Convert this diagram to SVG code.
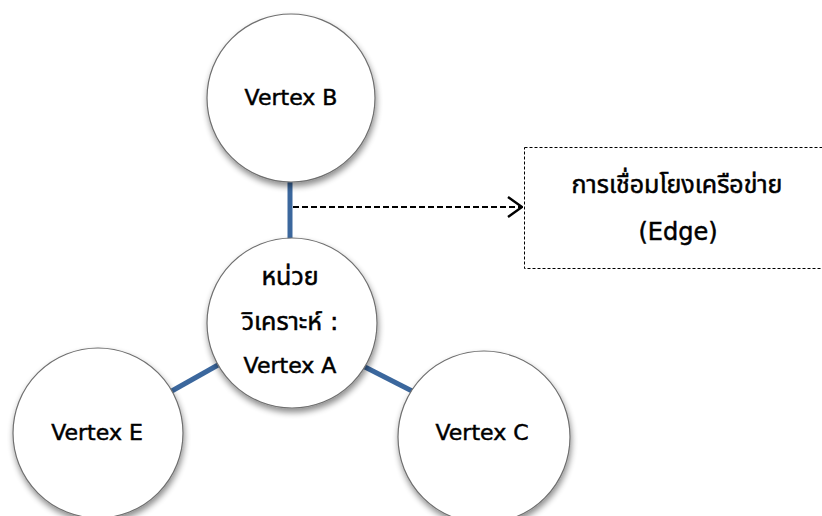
<svg xmlns="http://www.w3.org/2000/svg" width="822" height="516" viewBox="0 0 822 516">
  <defs>
    <filter id="shadow" x="-20%" y="-20%" width="140%" height="150%">
      <feGaussianBlur in="SourceAlpha" stdDeviation="3"/>
      <feOffset dx="1" dy="4" result="blur"/>
      <feComponentTransfer><feFuncA type="linear" slope="0.45"/></feComponentTransfer>
      <feMerge><feMergeNode/><feMergeNode in="SourceGraphic"/></feMerge>
    </filter>
    <marker id="chevron" viewBox="0 0 16 22" refX="15" refY="11" markerWidth="16" markerHeight="22" markerUnits="userSpaceOnUse" orient="auto">
      <path d="M1,1 L15,11 L1,21" fill="none" stroke="#000" stroke-width="2.4"/>
    </marker>
  </defs>
  <style>
    .node { fill: #ffffff; stroke: #6f6f6f; stroke-width: 1.2; filter: url(#shadow); }
    .label { font-family: "DejaVu Sans", "Noto Sans", "Noto Sans Thai", sans-serif; font-size: 22px; fill: #000; stroke: #000; stroke-width: 0.5; text-anchor: middle; }
    .thai { font-size: 25px; }
    .big { font-size: 24px; }
    .edge { stroke: #3b679d; stroke-width: 5; fill: none; }
    .pointer { stroke: #000; stroke-width: 2.2; stroke-dasharray: 6 3; fill: none; }
    .note { fill: #fff; stroke: #000; stroke-width: 1; stroke-dasharray: 3 2; }
  </style>

  <!-- edges between the analysis unit and its neighbours -->
  <g id="connectors">
    <line class="edge" x1="290" y1="180" x2="290" y2="240"/>
    <line class="edge" x1="218" y1="365" x2="170" y2="392"/>
    <line class="edge" x1="363" y1="366" x2="412" y2="391"/>
    <line class="pointer" x1="293" y1="207" x2="522" y2="207" marker-end="url(#chevron)"/>
  </g>

  <g id="vertex-b">
    <circle class="node" cx="291" cy="98" r="84"/>
    <text class="label" x="291" y="105">Vertex B</text>
  </g>

  <g id="vertex-a">
    <circle class="node" cx="292" cy="323" r="85"/>
    <text class="label thai" x="290" y="285">หน่วย</text>
    <text class="label thai" x="290" y="330">วิเคราะห์ :</text>
    <text class="label" x="290" y="373">Vertex A</text>
  </g>

  <g id="vertex-e">
    <circle class="node" cx="98" cy="433" r="85"/>
    <text class="label" x="97" y="440">Vertex E</text>
  </g>

  <g id="vertex-c">
    <circle class="node" cx="484" cy="437" r="86"/>
    <text class="label" x="482" y="440">Vertex C</text>
  </g>

  <g id="edge-note">
    <rect class="note" x="524.5" y="147.5" width="310" height="121"/>
    <text class="label thai" x="677" y="193">การเชื่อมโยงเครือข่าย</text>
    <text class="label big" x="678" y="240">(Edge)</text>
  </g>
</svg>
